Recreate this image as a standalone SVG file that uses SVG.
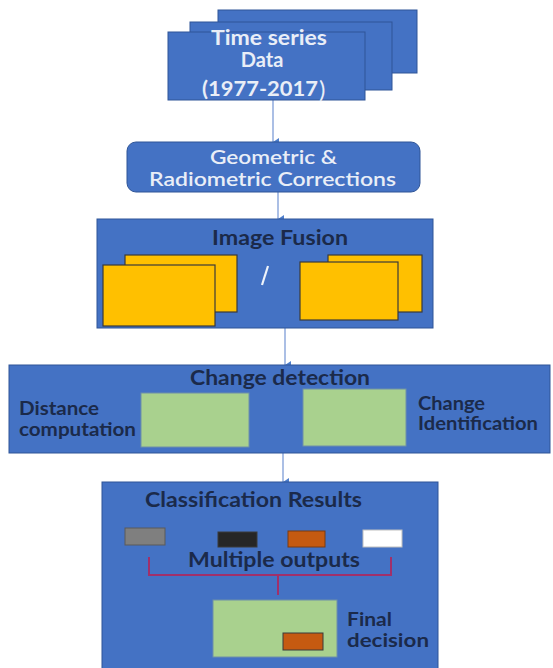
<svg xmlns="http://www.w3.org/2000/svg" width="553" height="668" viewBox="0 0 553 668">
<style>
.blue{fill:#4472C4;stroke:#2F5597;stroke-width:1}
.yel{fill:#FFC000;stroke:#3A3A3A;stroke-width:1.2}
.grn{fill:#A9D18E;stroke:#6E8FA8;stroke-width:1}
.conn{stroke:#8FAADC;stroke-width:1.5;fill:none}
.br{stroke:#A0306A;stroke-width:2;fill:none}
.wt{font-family:Lato,"Liberation Sans",sans-serif;font-weight:bold;fill:#E9EEF7;font-size:20px}
.dk{font-family:Lato,"Liberation Sans",sans-serif;font-weight:bold;fill:#1B2A4A;font-size:20px}
.sm{font-size:18px}
</style>
<defs>
<marker id="ah" markerWidth="8" markerHeight="8" refX="4" refY="6" orient="auto" markerUnits="userSpaceOnUse"><path d="M0,0 L8,0 L4,6 Z" fill="#4F7FCC"/></marker>
</defs>
<g id="connectors">
<line class="conn" x1="273" y1="100" x2="273" y2="142" marker-end="url(#ah)"/>
<line class="conn" x1="278" y1="192" x2="278" y2="219" marker-end="url(#ah)"/>
<line class="conn" x1="285" y1="328" x2="285" y2="365" marker-end="url(#ah)"/>
<line class="conn" x1="283" y1="453" x2="283" y2="482" marker-end="url(#ah)"/>
</g>
<g id="time-series">
<rect class="blue" x="218" y="10" width="199" height="63"/>
<rect class="blue" x="190" y="22" width="202" height="68"/>
<rect class="blue" x="168" y="32" width="197" height="68"/>
<text class="wt" x="211" y="45" textLength="116" lengthAdjust="spacingAndGlyphs">Time series</text>
<text class="wt" x="262" y="67" text-anchor="middle">Data</text>
<text class="wt" x="202" y="96" textLength="116" lengthAdjust="spacingAndGlyphs">(1977-2017</text>
<text class="wt" x="319" y="98" style="font-weight:normal;font-size:24px">)</text>
</g>
<g id="corrections">
<rect class="blue" x="127" y="142" width="293" height="50" rx="9"/>
<text class="wt" x="210" y="164" textLength="127" lengthAdjust="spacingAndGlyphs" style="font-weight:600">Geometric &amp;</text>
<text class="wt" x="149" y="186" textLength="247" lengthAdjust="spacingAndGlyphs" style="font-weight:600">Radiometric Corrections</text>
</g>
<g id="image-fusion">
<rect class="blue" x="97" y="219" width="336" height="109"/>
<text class="dk" x="212" y="245" textLength="136" lengthAdjust="spacingAndGlyphs">Image Fusion</text>
<rect class="yel" x="125" y="255" width="112" height="57"/>
<rect class="yel" x="103" y="265" width="112" height="61"/>
<rect class="yel" x="328" y="255" width="94" height="57"/>
<rect class="yel" x="300" y="262" width="98" height="58"/>
<line x1="262" y1="285" x2="268" y2="266" stroke="#EEF3FA" stroke-width="2.2"/>
</g>
<g id="change-detection">
<rect class="blue" x="9" y="365" width="541" height="88"/>
<text class="dk" x="190" y="385" textLength="180" lengthAdjust="spacingAndGlyphs">Change detection</text>
<rect class="grn" x="141" y="393" width="108" height="54"/>
<rect class="grn" x="303" y="389" width="103" height="57"/>
<text class="dk sm" x="19" y="415" textLength="80" lengthAdjust="spacingAndGlyphs">Distance</text>
<text class="dk sm" x="19" y="436" textLength="117" lengthAdjust="spacingAndGlyphs">computation</text>
<text class="dk sm" x="418" y="410" textLength="67" lengthAdjust="spacingAndGlyphs">Change</text>
<text class="dk sm" x="418" y="430" textLength="120" lengthAdjust="spacingAndGlyphs">Identification</text>
</g>
<g id="classification">
<rect class="blue" x="102" y="482" width="336" height="190"/>
<text class="dk" x="145" y="507" textLength="217" lengthAdjust="spacingAndGlyphs">Classification Results</text>
<rect x="125" y="528" width="40" height="17" fill="#7F7F7F" stroke="#5A5A5A"/>
<rect x="218" y="532" width="39" height="15" fill="#262626" stroke="#3A3A3A"/>
<rect x="288" y="531" width="37" height="16" fill="#C55A11" stroke="#7A3A10"/>
<rect x="363" y="530" width="39" height="17" fill="#FFFFFF" stroke="#BFBFBF"/>
<path class="br" d="M149,557 V575 H391 V557 M278,575 V595"/>
<text class="dk" x="188" y="567" textLength="172" lengthAdjust="spacingAndGlyphs">Multiple outputs</text>
<rect class="grn" x="213" y="600" width="124" height="57"/>
<rect x="283" y="633" width="40" height="17" fill="#C55A11" stroke="#3A3A3A"/>
<text class="dk sm" x="347" y="626" textLength="45" lengthAdjust="spacingAndGlyphs">Final</text>
<text class="dk sm" x="347" y="647" textLength="82" lengthAdjust="spacingAndGlyphs">decision</text>
</g>
</svg>
